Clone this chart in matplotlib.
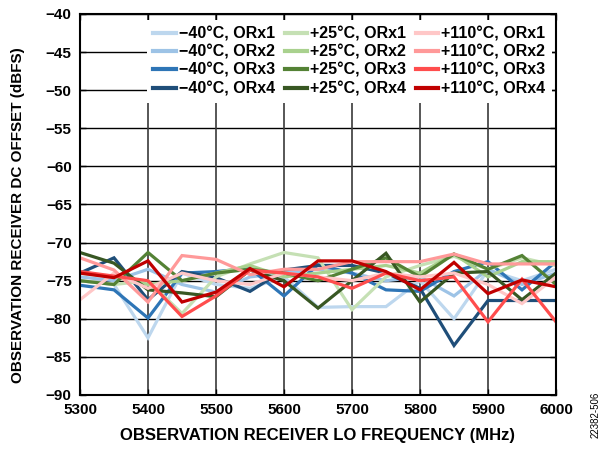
import matplotlib
matplotlib.use("Agg")
import matplotlib.pyplot as plt

plt.rcParams['font.family'] = ['Liberation Sans', 'DejaVu Sans']

freq = [5300, 5350, 5400, 5450, 5500, 5550, 5600, 5650, 5700, 5750, 5800, 5850, 5900, 5950, 6000]

m40_orx1 = [-75.0, -75.5, -82.5, -74.0, -75.5, -76.0, -74.5, -78.5, -78.4, -78.4, -75.0, -80.0, -73.6, -75.0, -73.5]
m40_orx2 = [-74.5, -75.0, -73.5, -75.5, -76.5, -74.5, -74.0, -73.5, -74.0, -75.0, -74.5, -77.0, -73.5, -75.5, -74.0]
m40_orx3 = [-75.6, -76.2, -79.9, -74.0, -73.8, -73.4, -77.0, -72.9, -74.0, -76.2, -76.4, -73.8, -72.5, -76.2, -72.5]
m40_orx4 = [-74.0, -72.0, -77.5, -73.8, -74.6, -76.4, -73.6, -73.0, -73.0, -74.0, -76.0, -83.5, -77.6, -77.6, -77.6]

p25_orx1 = [-75.0, -75.5, -75.0, -79.3, -74.5, -72.8, -71.3, -72.0, -78.8, -74.5, -73.0, -71.8, -73.5, -72.0, -73.0]
p25_orx2 = [-74.0, -74.5, -75.5, -75.0, -74.0, -73.0, -74.5, -74.0, -73.5, -73.0, -74.0, -71.5, -74.5, -72.5, -72.5]
p25_orx3 = [-75.0, -75.5, -71.3, -75.0, -74.0, -73.5, -74.0, -75.0, -73.5, -72.0, -74.5, -71.5, -73.5, -71.7, -75.5]
p25_orx4 = [-71.3, -72.7, -76.2, -76.6, -77.1, -73.6, -75.0, -78.6, -75.0, -71.4, -77.8, -74.0, -73.8, -77.5, -74.0]

p110_orx1 = [-77.5, -74.0, -76.0, -74.0, -75.0, -75.5, -74.0, -74.5, -75.0, -74.0, -74.5, -74.0, -75.5, -78.0, -74.5]
p110_orx2 = [-72.0, -73.6, -77.8, -71.7, -72.2, -74.2, -73.5, -73.5, -72.5, -72.5, -72.5, -71.5, -72.8, -72.8, -72.8]
p110_orx3 = [-73.8, -74.4, -75.0, -79.7, -77.0, -73.6, -74.0, -74.5, -76.0, -74.0, -75.0, -74.5, -80.4, -74.8, -80.4]
p110_orx4 = [-74.0, -74.6, -72.4, -77.8, -76.5, -73.4, -75.8, -72.4, -72.4, -73.8, -76.2, -72.6, -76.7, -74.9, -75.8]

labels = ["\u221240\u00b0C, ORx1", "\u221240\u00b0C, ORx2", "\u221240\u00b0C, ORx3", "\u221240\u00b0C, ORx4",
          "+25\u00b0C, ORx1", "+25\u00b0C, ORx2", "+25\u00b0C, ORx3", "+25\u00b0C, ORx4",
          "+110\u00b0C, ORx1", "+110\u00b0C, ORx2", "+110\u00b0C, ORx3", "+110\u00b0C, ORx4"]
series = [m40_orx1, m40_orx2, m40_orx3, m40_orx4,
          p25_orx1, p25_orx2, p25_orx3, p25_orx4,
          p110_orx1, p110_orx2, p110_orx3, p110_orx4]
colors = ["#bdd7ee", "#9dc3e6", "#2e75b6", "#1f4e79",
          "#c5e0b4", "#a9d18e", "#548235", "#385723",
          "#ffc7c7", "#ff9999", "#ff4d4d", "#c00000"]

xticks = [5300, 5400, 5500, 5600, 5700, 5800, 5900, 6000]
yticks = [-40, -45, -50, -55, -60, -65, -70, -75, -80, -85, -90]

fig = plt.figure(figsize=(6.04, 4.5), dpi=100)
ax = fig.add_axes([80/604, 1-395/450, (556-80)/604, (395-14)/450])

for v in yticks:
    ax.axhline(v, color="black", lw=1.0, zorder=0.5)
for v in xticks:
    ax.axvline(v, color="#3a3a3a", lw=1.2, zorder=0.5)

for s, c, l in zip(series, colors, labels):
    ax.plot(freq, s, color=c, lw=2.3, label=l, zorder=2.2, solid_joinstyle='miter')

ax.set_xlim(5300, 6000)
ax.set_ylim(-90, -40)
ax.set_xticks(xticks)
ax.set_yticks(yticks)
ax.tick_params(direction='in', top=True, right=True, length=4, width=1, labelsize=11, pad=6)
for lab in ax.get_xticklabels() + ax.get_yticklabels():
    lab.set_fontweight('bold')
for sp in ax.spines.values():
    sp.set_linewidth(1.5)
    sp.set_zorder(3)

ax.set_xlabel("OBSERVATION RECEIVER LO FREQUENCY (MHz)", fontsize=12, fontweight='bold')
ax.set_ylabel("OBSERVATION RECEIVER DC OFFSET (dBFS)", fontsize=11, fontweight='bold')
ax.xaxis.set_label_coords(0.5, -(428-395)/381)
ax.yaxis.set_label_coords(-(80-25)/476, 1-(215-14)/381)

leg = ax.legend(ncol=3, loc='upper left', bbox_to_anchor=((147-80)/476, 1-(20-14)/381), frameon=True,
                fancybox=False, edgecolor='none', facecolor='white', framealpha=1.0,
                prop={'weight': 'bold', 'size': 11.5}, handlelength=1.4, handletextpad=0.2,
                columnspacing=0.6, labelspacing=0.2, borderpad=0.4, borderaxespad=0.0)
for h in leg.get_lines():
    h.set_linewidth(3)
leg.set_zorder(2)

fig.text(596/604, 1-415/450, "22382-506", rotation=90, fontsize=7, ha='center', va='center')

fig.savefig("out.png", dpi=100)
